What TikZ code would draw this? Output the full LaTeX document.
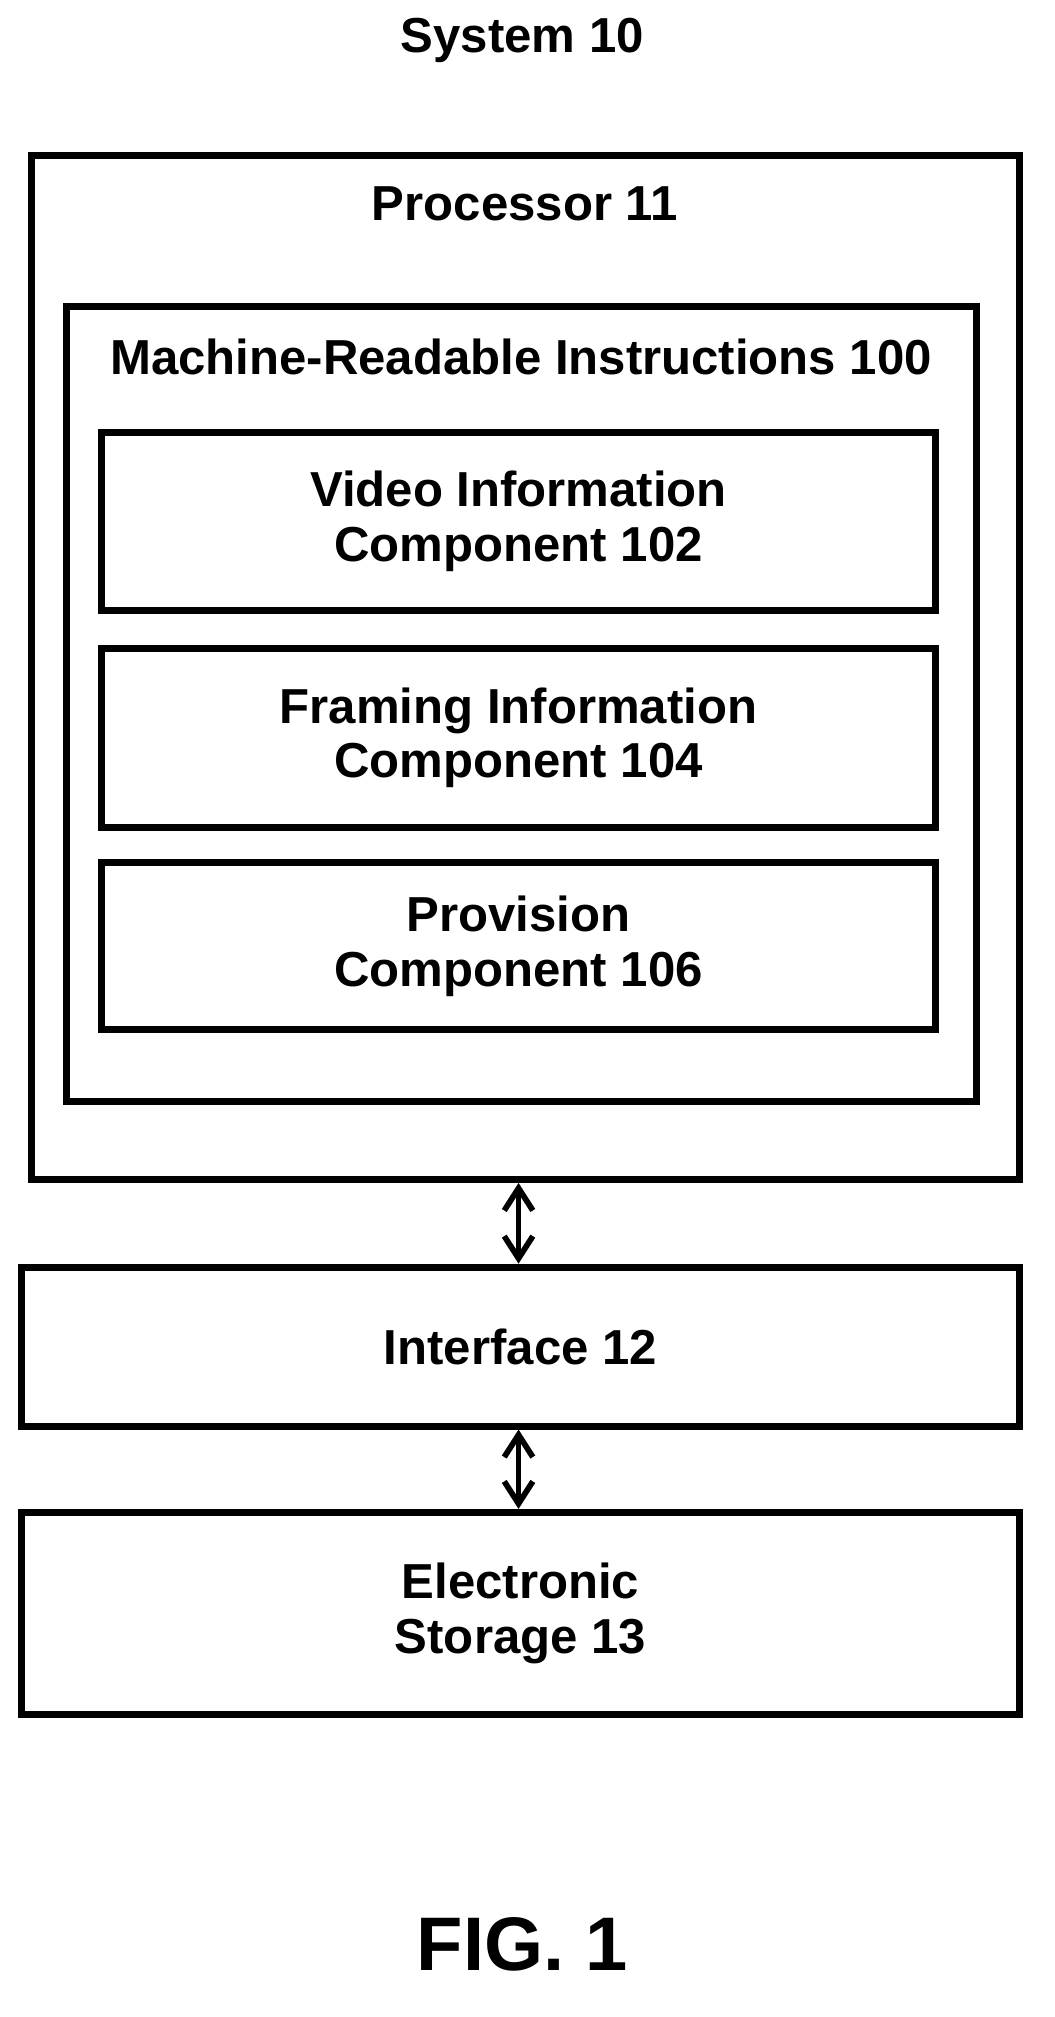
\documentclass[tikz,border=0pt]{standalone}
\usepackage{fontspec}
\setmainfont{Liberation Sans}
\usetikzlibrary{arrows.meta,positioning}
\begin{document}
\begin{tikzpicture}[x=0.02cm,y=-0.02cm,
  box/.style={draw,line width=0.11cm,inner sep=0pt,align=center},
  lbl/.style={font=\fontsize{22}{24.5}\selectfont\bfseries,align=center},
  link/.style={line width=0.09cm,{Straight Barb[length=0.35cm,width=0.45cm]}-{Straight Barb[length=0.35cm,width=0.45cm]}}]
  \useasboundingbox (0,0) rectangle (830,1587);

  % Title
  \node[lbl] (sys) at (411,32) {System 10};

  % Processor and its contents
  \node[box,minimum width=777*0.02cm,minimum height=806*0.02cm] (proc) at (413.5,525) {};
  \node[lbl] (proclbl) at (413,160) {Processor 11};
  \node[box,minimum width=716*0.02cm,minimum height=626*0.02cm] (mri) at (410,554) {};
  \node[lbl] (mrilbl) at (410,281) {Machine-Readable Instructions 100};

  \node[box,lbl,minimum width=656*0.02cm,minimum height=140*0.02cm] (video) at (408,410) {Video Information\\Component 102};
  \node[box,lbl,minimum width=656*0.02cm,minimum height=141*0.02cm] (framing) at (408,580.5) {Framing Information\\Component 104};
  \node[box,lbl,minimum width=656*0.02cm,minimum height=131*0.02cm] (prov) at (408,744.5) {Provision\\Component 106};

  % Interface and storage
  \node[box,lbl,minimum width=785*0.02cm,minimum height=125*0.02cm] (iface) at (409.5,1059.5) {Interface 12};
  \node[box,lbl,minimum width=785*0.02cm,minimum height=159*0.02cm] (store) at (409.5,1269.5) {Electronic\\Storage 13};

  % Connectors
  \draw[link] (proc.south -| 408,0) -- (iface.north -| 408,0);
  \draw[link] (iface.south -| 408,0) -- (store.north -| 408,0);

  % Caption
  \node[font=\fontsize{34}{40}\selectfont\bfseries] (fig) at (411,1530) {FIG. 1};
\end{tikzpicture}
\end{document}
